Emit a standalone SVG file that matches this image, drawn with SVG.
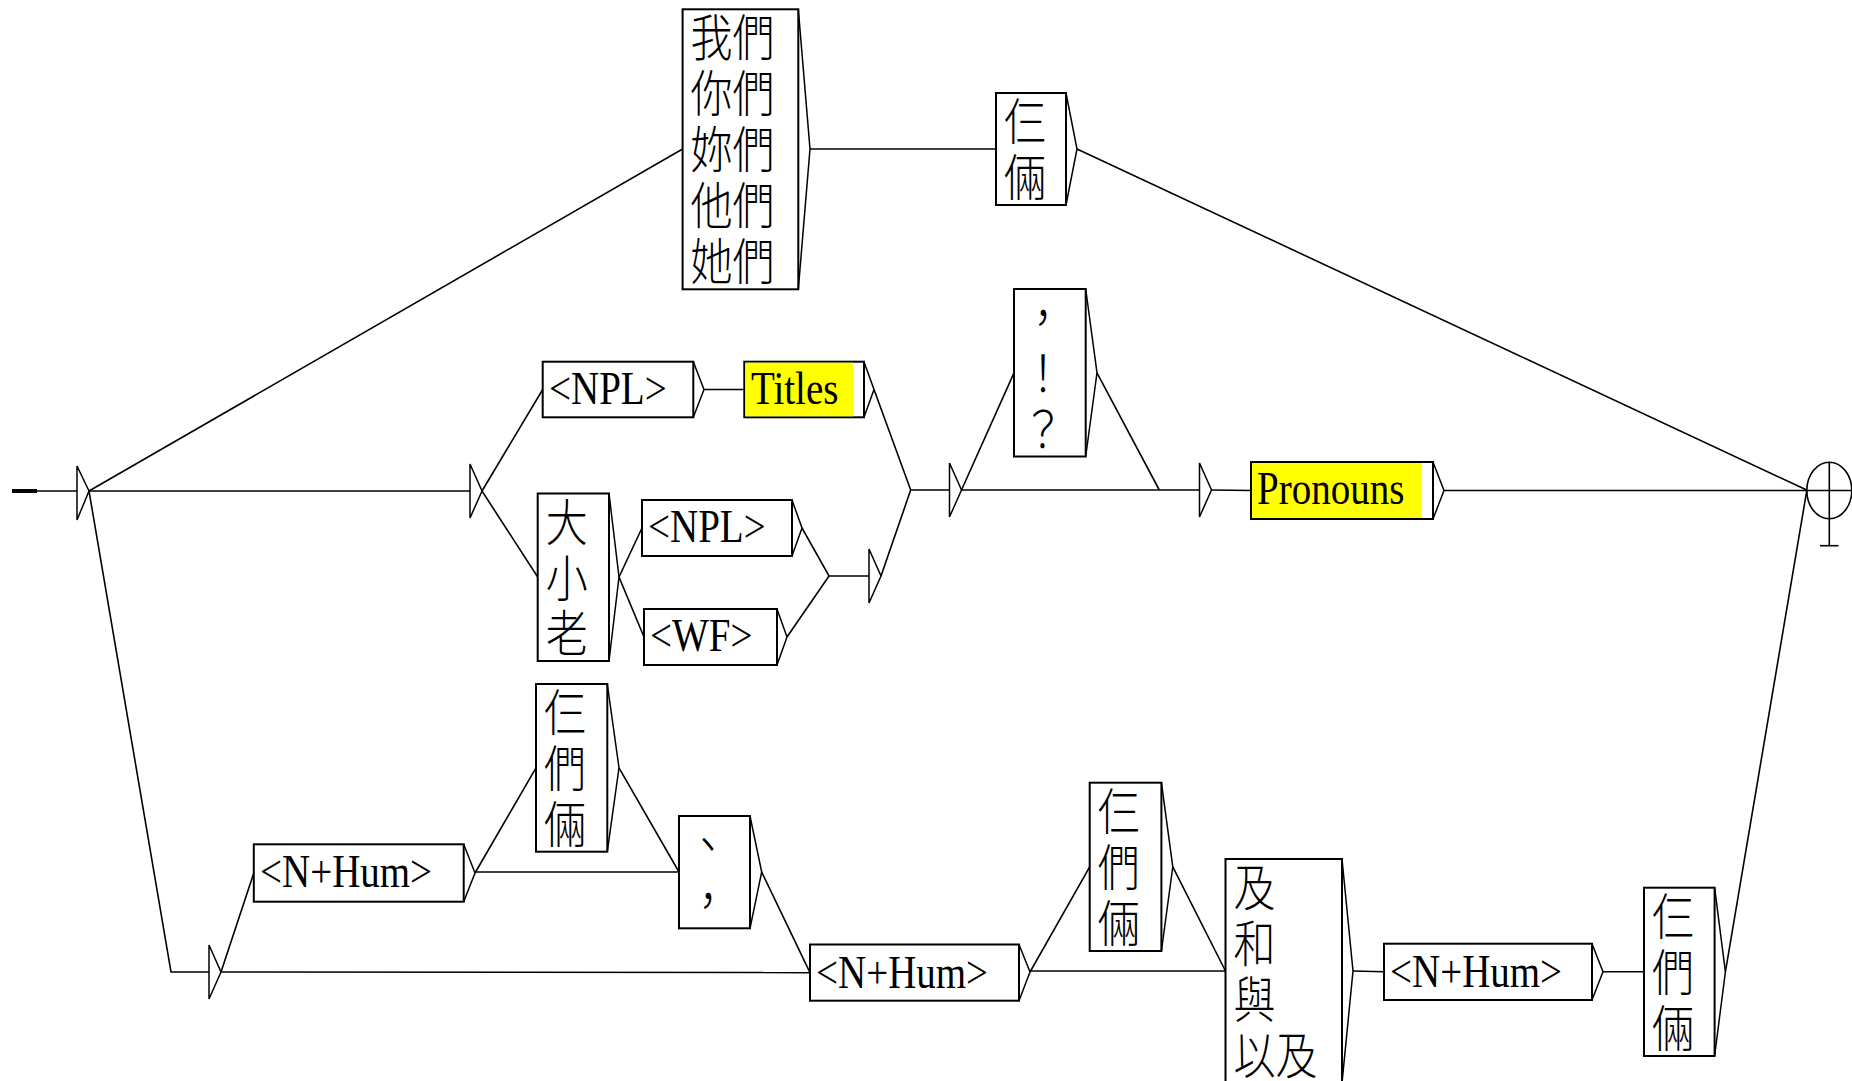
<svg xmlns="http://www.w3.org/2000/svg" width="1852" height="1081" viewBox="0 0 1852 1081">
<style>
.bx{fill:#ffffff;stroke:#000000;stroke-width:2}
.hl{fill:#ffff00;stroke:none}
.tri{fill:none;stroke:#000000;stroke-width:1.5;stroke-linejoin:miter}
.c{fill:none;stroke:#000000;stroke-width:1.6}
.lat{font-family:"Liberation Serif","Times New Roman",serif;font-size:39px;fill:#000000}
.cjk{font-family:"Noto Sans CJK TC","Noto Sans CJK SC",sans-serif;font-size:42px;font-weight:300;fill:#000000}
</style>
<rect width="1852" height="1081" fill="#ffffff"/>
<g id="connectors">
<line x1="12" y1="491" x2="37" y2="491" stroke="#000" stroke-width="4"/>
<path class="c" d="M37 491 L77 491"/>
<path class="c" d="M89 491 L682.6 149"/>
<path class="c" d="M89 491 L470 491"/>
<path class="c" d="M89 491 L171 972 L209 972"/>
<path class="c" d="M810 149 L996 149"/>
<path class="c" d="M1077 149 L1806.7 490"/>
<path class="c" d="M482 491 L542.7 389.5"/>
<path class="c" d="M482 491 L537.7 577"/>
<path class="c" d="M704 389.5 L744.3 389.5"/>
<path class="c" d="M874 389.5 L910.7 490 L949.5 490"/>
<path class="c" d="M619 577 L642 528"/>
<path class="c" d="M619 577 L644 637"/>
<path class="c" d="M802 528 L829 576 L869 576"/>
<path class="c" d="M787 637 L829 576"/>
<path class="c" d="M881 576 L910.7 490"/>
<path class="c" d="M961.5 490 L1014 372.8"/>
<path class="c" d="M961.5 490 L1199.5 490"/>
<path class="c" d="M1097 372.8 L1159.3 490"/>
<path class="c" d="M1211.5 490 L1251 490.5"/>
<path class="c" d="M1444 490.5 L1852 490.5"/>
<path class="c" d="M221 972 L253.8 873"/>
<path class="c" d="M221 972 L810 972.6"/>
<path class="c" d="M475 873 L536 767.8"/>
<path class="c" d="M475 872 L679 872"/>
<path class="c" d="M619 767.8 L679 872"/>
<path class="c" d="M761.7 872 L810 972.6"/>
<path class="c" d="M1030 972 L1089.7 866.8"/>
<path class="c" d="M1030 971 L1225.5 971"/>
<path class="c" d="M1172.8 866.8 L1225.5 971"/>
<path class="c" d="M1353 971 L1384 971.8"/>
<path class="c" d="M1603 971.8 L1644 971.8"/>
<path class="c" d="M1725.4 971.8 L1806.7 491"/>
</g>
<g id="initial">
<path class="tri" d="M77 466 L77 520 L89 491 Z"/>
</g>
<g id="e1"><path class="tri" d="M470 464 L470 518 L482 491 Z"/></g>
<g id="e2"><path class="tri" d="M869 549 L869 603 L881 576 Z"/></g>
<g id="e3"><path class="tri" d="M949.5 463 L949.5 517 L961.5 490 Z"/></g>
<g id="e4"><path class="tri" d="M1199.5 463 L1199.5 517 L1211.5 490 Z"/></g>
<g id="e5"><path class="tri" d="M209 945 L209 999 L221 972 Z"/></g>
<g id="final">
<ellipse cx="1829.3" cy="490.5" rx="22.5" ry="28.3" fill="none" stroke="#000" stroke-width="1.6"/>
<line x1="1829.3" y1="462" x2="1829.3" y2="545.7" stroke="#000" stroke-width="1.6"/>
<line x1="1820" y1="545.7" x2="1838.5" y2="545.7" stroke="#000" stroke-width="1.6"/>
</g>
<g id="pronouns-we">
<rect class="bx" x="682.6" y="9.3" width="115.7" height="280"/>
<path class="tri" d="M798.3 9.3 L810 149 L798.3 289.3"/>
<text class="cjk" transform="translate(690.6 56.3) scale(1 1.2)"><tspan x="0" y="0">我們</tspan><tspan x="0" dy="46.667">你們</tspan><tspan x="0" dy="46.667">妳們</tspan><tspan x="0" dy="46.667">他們</tspan><tspan x="0" dy="46.667">她們</tspan></text>
</g>
<g id="sa-lia">
<rect class="bx" x="996" y="93" width="70" height="112"/>
<path class="tri" d="M1066 93 L1077 149 L1066 205"/>
<text class="cjk" transform="translate(1004 140) scale(1 1.2)"><tspan x="0" y="0">仨</tspan><tspan x="0" dy="46.667">倆</tspan></text>
</g>
<g id="npl1">
<rect class="bx" x="542.7" y="361.7" width="150.6" height="55.6"/>
<path class="tri" d="M693.3 361.7 L704 389.5 L693.3 417.3"/>
<text class="lat" transform="translate(549 404) scale(1 1.2)">&lt;NPL&gt;</text>
</g>
<g id="titles">
<rect class="bx" x="744.3" y="361.7" width="119.7" height="55.6"/>
<rect class="hl" x="745.3" y="362.7" width="108" height="53.6"/>
<path class="tri" d="M864 361.7 L874 389.5 L864 417.3"/>
<text class="lat" transform="translate(751 404) scale(1 1.2)">Titles</text>
</g>
<g id="da-xiao-lao">
<rect class="bx" x="537.7" y="493.5" width="71.3" height="167.5"/>
<path class="tri" d="M609 493.5 L619 577 L609 661"/>
<text class="cjk" transform="translate(545.7 540.5) scale(1 1.2)"><tspan x="0" y="0">大</tspan><tspan x="0" dy="46.667">小</tspan><tspan x="0" dy="46.667">老</tspan></text>
</g>
<g id="npl2">
<rect class="bx" x="642" y="500" width="150" height="56"/>
<path class="tri" d="M792 500 L802 528 L792 556"/>
<text class="lat" transform="translate(648 542) scale(1 1.2)">&lt;NPL&gt;</text>
</g>
<g id="wf">
<rect class="bx" x="644" y="609" width="133" height="56"/>
<path class="tri" d="M777 609 L787 637 L777 665"/>
<text class="lat" transform="translate(650 651) scale(1 1.2)">&lt;WF&gt;</text>
</g>
<g id="punct">
<rect class="bx" x="1014" y="289" width="71.7" height="167.5"/>
<path class="tri" d="M1085.7 289 L1097 372.8 L1085.7 456.5"/>
<text class="cjk" transform="translate(1022 336) scale(1 1.2)"><tspan x="0" y="0">，</tspan><tspan x="0" dy="46.667">！</tspan><tspan x="0" dy="46.667">？</tspan></text>
</g>
<g id="pronouns">
<rect class="bx" x="1251" y="462" width="182" height="57"/>
<rect class="hl" x="1252" y="463" width="170" height="55"/>
<path class="tri" d="M1433 462 L1444 490.5 L1433 519"/>
<text class="lat" transform="translate(1257 504) scale(1 1.2)">Pronouns</text>
</g>
<g id="nhum1">
<rect class="bx" x="253.8" y="844.3" width="209.9" height="57.4"/>
<path class="tri" d="M463.7 844.3 L475 873 L463.7 901.7"/>
<text class="lat" transform="translate(260 887) scale(1 1.2)">&lt;N+Hum&gt;</text>
</g>
<g id="sa-men-lia1">
<rect class="bx" x="536" y="684" width="71.3" height="167.7"/>
<path class="tri" d="M607.3 684 L619 767.8 L607.3 851.7"/>
<text class="cjk" transform="translate(544 731) scale(1 1.2)"><tspan x="0" y="0">仨</tspan><tspan x="0" dy="46.667">們</tspan><tspan x="0" dy="46.667">倆</tspan></text>
</g>
<g id="sep">
<rect class="bx" x="679" y="816" width="71" height="112.3"/>
<path class="tri" d="M750 816 L761.7 872 L750 928.3"/>
<text class="cjk" transform="translate(687 863) scale(1 1.2)"><tspan x="0" y="0">、</tspan><tspan x="0" dy="46.667">，</tspan></text>
</g>
<g id="nhum2">
<rect class="bx" x="810" y="944.5" width="209" height="56.2"/>
<path class="tri" d="M1019 944.5 L1030 972 L1019 1000.7"/>
<text class="lat" transform="translate(816 987.5) scale(1 1.2)">&lt;N+Hum&gt;</text>
</g>
<g id="sa-men-lia2">
<rect class="bx" x="1089.7" y="782.7" width="71.7" height="168.3"/>
<path class="tri" d="M1161.4 782.7 L1172.8 866.8 L1161.4 951"/>
<text class="cjk" transform="translate(1097.7 829.7) scale(1 1.2)"><tspan x="0" y="0">仨</tspan><tspan x="0" dy="46.667">們</tspan><tspan x="0" dy="46.667">倆</tspan></text>
</g>
<g id="conj">
<rect class="bx" x="1225.5" y="859" width="116.5" height="224"/>
<path class="tri" d="M1342 859 L1353 971 L1342 1083"/>
<text class="cjk" transform="translate(1233.5 906) scale(1 1.2)"><tspan x="0" y="0">及</tspan><tspan x="0" dy="46.667">和</tspan><tspan x="0" dy="46.667">與</tspan><tspan x="0" dy="46.667">以及</tspan></text>
</g>
<g id="nhum3">
<rect class="bx" x="1384" y="943.7" width="208" height="56.3"/>
<path class="tri" d="M1592 943.7 L1603 971.8 L1592 1000"/>
<text class="lat" transform="translate(1390 986.5) scale(1 1.2)">&lt;N+Hum&gt;</text>
</g>
<g id="sa-men-lia3">
<rect class="bx" x="1644" y="887.7" width="70.6" height="168.3"/>
<path class="tri" d="M1714.6 887.7 L1725.4 971.8 L1714.6 1056"/>
<text class="cjk" transform="translate(1652 934.7) scale(1 1.2)"><tspan x="0" y="0">仨</tspan><tspan x="0" dy="46.667">們</tspan><tspan x="0" dy="46.667">倆</tspan></text>
</g>
</svg>
